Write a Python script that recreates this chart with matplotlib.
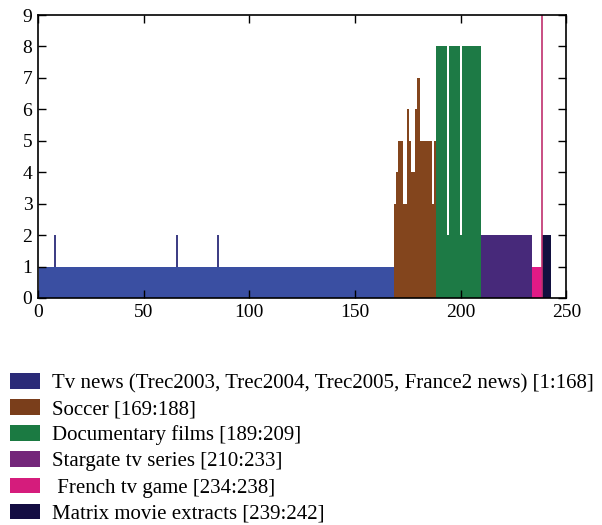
import matplotlib
matplotlib.use("Agg")
import matplotlib.pyplot as plt
from matplotlib.patches import Patch

plt.rcParams['font.family'] = ['Liberation Serif', 'DejaVu Serif']

# item index ranges of each category
labels = ["Tv news (Trec2003, Trec2004, Trec2005, France2 news) [1:168]",
          "Soccer [169:188]",
          "Documentary films [189:209]",
          "Stargate tv series [210:233]",
          " French tv game [234:238]",
          "Matrix movie extracts [239:242]"]
starts = [1, 169, 189, 210, 234, 239]

# values per item
news_vals = [1] * 168
news_spikes = [8, 66, 85]          # items of the news block reaching 2
soccer_vals = [3, 4, 5, 5, 3, 3, 6, 5, 4, 4, 6, 7, 5, 5, 5, 5, 5, 5, 3, 5]
doc_vals = [8, 8, 8, 8, 8, 2, 8, 8, 8, 8, 8, 2, 8, 8, 8, 8, 8, 8, 8, 8, 8]
stargate_vals = [2] * 24
game_vals = [1] * 5
matrix_vals = [2] * 4
game_peak = [238.6]                # thin line running off the top

fill_colors = ["#3a4fa2", "#83451d", "#1d7a45", "#47297a", "#e01a86", "#12103f"]
legend_colors = ["#2b2b78", "#7a3e1b", "#1b7a42", "#74267a", "#d51c7c", "#140d42"]

all_vals = [news_vals, soccer_vals, doc_vals, stargate_vals, game_vals, matrix_vals]

fig = plt.figure(figsize=(6.02, 5.25), dpi=100)
ax = fig.add_axes([0.063, 0.4324, 0.878, 0.539])

for st, vals, c in zip(starts, all_vals, fill_colors):
    xs = list(range(st, st + len(vals)))
    ax.bar(xs, vals, width=1.0, color=c, linewidth=0)

ax.vlines(news_spikes, 1, 2, color="#2b2b78", linewidth=1.3)
for px in game_peak:
    ax.axvline(px, color="#c0306e", linewidth=1.2)

ax.set_xlim(0, 250)
ax.set_ylim(0, 9)
ax.set_xticks([0, 50, 100, 150, 200, 250])
ax.set_yticks(range(0, 10))
ax.tick_params(direction="in", top=True, right=True, length=6, width=1,
               labelsize=14, pad=4)
for s in ax.spines.values():
    s.set_linewidth(1.2)

handles = [Patch(facecolor=c, edgecolor="none") for c in legend_colors]
fig.legend(handles, labels, loc="upper left", bbox_to_anchor=(0.017, 0.289),
           frameon=False, fontsize=15, handlelength=1.45, handleheight=0.77,
           handletextpad=0.55, labelspacing=0.29, borderaxespad=0,
           borderpad=0)

fig.savefig("out.png", dpi=100)
